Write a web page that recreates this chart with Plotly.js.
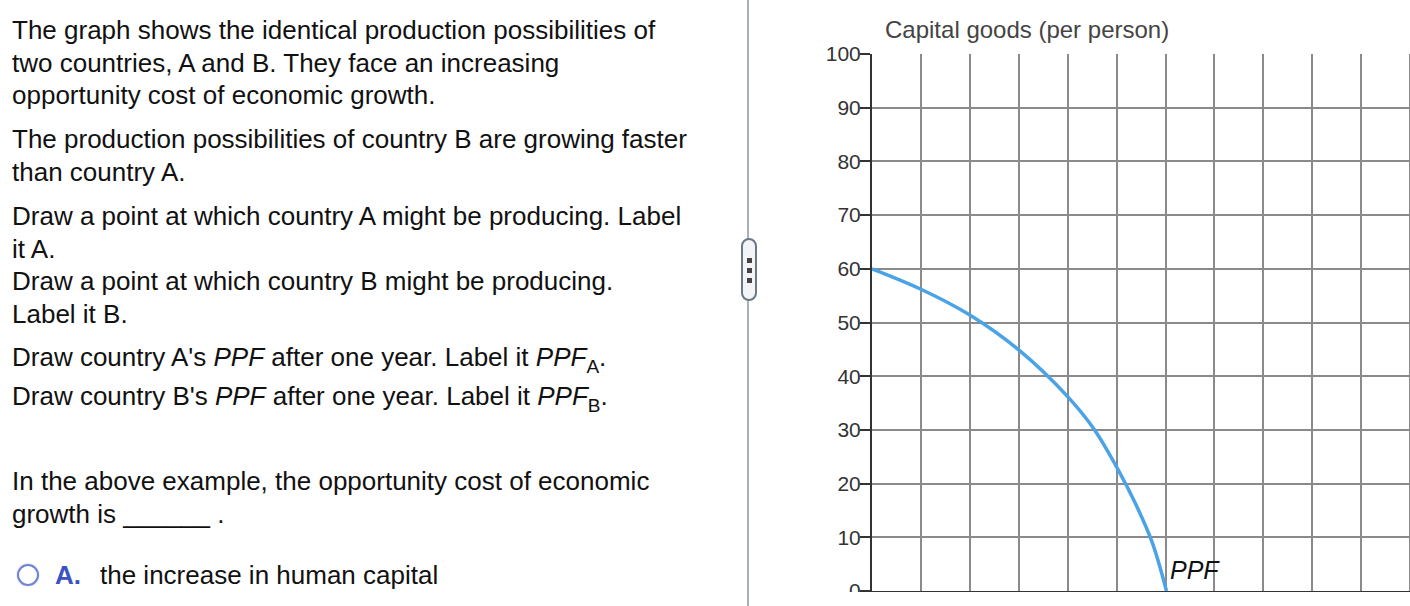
<!DOCTYPE html>
<html>
<head>
<meta charset="utf-8">
<script src="https://cdn.plot.ly/plotly-3.0.1.min.js"></script>
<style>
  html, body { margin: 0; padding: 0; background: #fff; }
  body { width: 1410px; height: 606px; position: relative; overflow: hidden;
         font-family: "Liberation Sans", Arial, Helvetica, sans-serif; color: #111; }
  .p { position: absolute; left: 12px; width: 720px; font-size: 26px; line-height: 32.5px; margin: 0; white-space: nowrap; }
  .p sub { font-size: 19px; vertical-align: -7px; line-height: 0; }
  #divider { position: absolute; left: 747px; top: 0; width: 2px; height: 606px; background: #a7b0ba; }
  #handle { position: absolute; left: 741px; top: 238px; width: 12px; height: 59px;
            border: 2px solid #6b7785; border-radius: 8px; background: #f3f4f6; }
  #handle i { position: absolute; left: 4px; width: 5px; height: 5px; background: #444; }
  #radio { position: absolute; left: 17px; top: 564px; width: 18px; height: 18px; border-radius: 50%;
           border: 2px solid #6f82d4; box-shadow: 0 0 2px #b8c2ee; }
  #optA { position: absolute; left: 55px; top: 559px; font-size: 26px; line-height: 32px; font-weight: bold; color: #3a52c2; }
  #optT { position: absolute; left: 100px; top: 559px; font-size: 26px; line-height: 32px; }
  #wrap { position: absolute; left: 800px; top: 0; width: 610px; height: 592px; overflow: hidden; }
  #chart { position: absolute; left: 0; top: 0; width: 680px; height: 630px; }
</style>
</head>
<body>
<div class="p" style="top:14px">The graph shows the identical production possibilities of<br>two countries, A and B. They face an increasing<br>opportunity cost of economic growth.</div>
<div class="p" style="top:123px">The production possibilities of country B are growing faster<br>than country A.</div>
<div class="p" style="top:200px">Draw a point at which country A might be producing. Label<br>it A.<br>Draw a point at which country B might be producing.<br>Label it B.</div>
<div class="p" style="top:341px">Draw country A's <i>PPF</i> after one year. Label it <i>PPF</i><sub>A</sub>.</div>
<div class="p" style="top:380px">Draw country B's <i>PPF</i> after one year. Label it <i>PPF</i><sub>B</sub>.</div>
<div class="p" style="top:465px">In the above example, the opportunity cost of economic<br>growth is ______ .</div>
<div id="radio"></div>
<div id="optA">A.</div>
<div id="optT">the increase in human capital</div>

<div id="divider"></div>
<div id="handle"><i style="top:18px"></i><i style="top:28px"></i><i style="top:38px"></i></div>

<div id="wrap"><div id="chart"></div></div>

<script>
// PPF
const ppfX = [0, 10, 20, 30, 40, 45.5, 50, 54, 57.3, 60.2];
const ppfY = [60, 56.2, 51.4, 44.9, 36.2, 30, 23.1, 16, 9, 0];
const yTicks = [0, 10, 20, 30, 40, 50, 60, 70, 80, 90, 100];
const yTitle = 'Capital goods (per person)';
const curveLabel = 'PPF';

const font = '"Liberation Sans", Arial, Helvetica, sans-serif';

Plotly.newPlot('chart', [{
  type: 'scatter',
  mode: 'lines',
  x: ppfX,
  y: ppfY,
  line: { color: '#4aa3e6', width: 3.5, shape: 'spline', smoothing: 1 },
  hoverinfo: 'skip',
}], {
  width: 680,
  height: 630,
  margin: { l: 72, r: 20, t: 54.3, b: 39.3 },
  paper_bgcolor: 'rgba(0,0,0,0)',
  plot_bgcolor: '#fff',
  showlegend: false,
  font: { family: font, color: '#333' },
  xaxis: {
    range: [0, 120.2], tick0: 0, dtick: 10, showticklabels: false,
    showgrid: true, gridcolor: '#8a8a8a', gridwidth: 2,
    showline: true, linecolor: '#333', linewidth: 2, zeroline: false,
  },
  yaxis: {
    range: [0, 100], tickvals: yTicks, ticks: 'outside', ticklen: 10, tickwidth: 2, tickcolor: '#333',
    ticklabelstandoff: -5,
    tickfont: { size: 21, color: '#333' },
    showgrid: true, gridcolor: '#8a8a8a', gridwidth: 2,
    showline: true, linecolor: '#333', linewidth: 2, zeroline: false,
  },
  annotations: [
    { xref: 'paper', yref: 'paper', x: 10.7 / 588, y: 1, xanchor: 'left', yanchor: 'bottom', yshift: 9,
      text: yTitle, showarrow: false, font: { size: 24, color: '#444' } },
    { x: 60.6, y: 3.9, xanchor: 'left', yanchor: 'middle',
      text: '<i>' + curveLabel + '</i>', showarrow: false, font: { size: 25, color: '#111' } },
  ],
}, { staticPlot: true, displayModeBar: false });
</script>
</body>
</html>
